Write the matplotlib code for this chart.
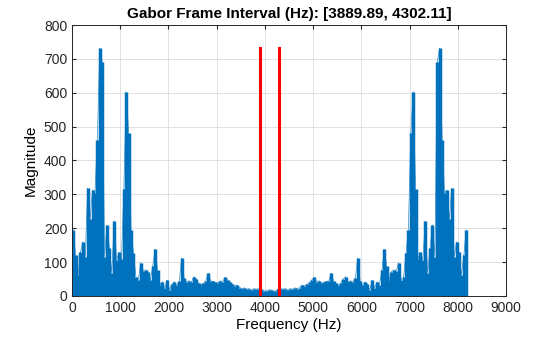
import numpy as np
import matplotlib.pyplot as plt

plt.rcParams['font.family'] = ['Liberation Sans', 'DejaVu Sans']

# Peak magnitude per 50 Hz bin (0 .. 8200 Hz)
bin_width = 50
mag_left = [195, 120, 62, 130, 160, 116, 318, 227, 313, 303,
            460, 731, 692, 116, 210, 141, 67, 221, 106, 129,
            108, 315, 603, 480, 195, 126, 57, 47, 98, 75,
            77, 72, 47, 90, 138, 77, 33, 42, 23, 47,
            18, 35, 42, 32, 45, 111, 52, 42, 45, 40,
            57, 50, 38, 32, 37, 45, 67, 45, 43, 40,
            38, 45, 42, 55, 48, 40, 35, 30, 32, 25,
            22, 24, 20, 22, 18, 22, 20, 22, 20, 15,
            15, 18]
mag_right = [18, 15, 15, 20, 22, 20, 22, 18, 22, 20,
             24, 22, 25, 32, 30, 35, 40, 48, 55, 42,
             45, 38, 40, 43, 45, 67, 45, 37, 32, 38,
             50, 57, 40, 45, 42, 52, 111, 45, 32, 42,
             35, 18, 47, 23, 42, 33, 77, 138, 90, 47,
             72, 77, 75, 98, 47, 57, 126, 195, 480, 603,
             315, 108, 129, 106, 221, 67, 141, 210, 116, 692,
             731, 460, 303, 313, 227, 318, 116, 160, 130, 62,
             120, 195]
magnitude = np.array(mag_left + mag_right)
freq = np.arange(len(magnitude)) * bin_width + bin_width / 2

interval = [3889.89, 4302.11]

fig = plt.figure(figsize=(5.6, 3.37), dpi=100)
ax = fig.add_axes([0.1286, 0.1217, 0.775, 0.8041])

blue = '#0072BD'
ax.vlines(freq, 0, magnitude, color=blue, linewidth=2.5)
ax.plot(freq, magnitude, color=blue, linewidth=0.5, alpha=0.8)

for f in interval:
    ax.plot([f, f], [0, magnitude.max()], color='r', linewidth=2.2)

ax.set_xlim(0, 9000)
ax.set_ylim(0, 800)
ax.set_xticks(np.arange(0, 9001, 1000))
ax.set_yticks(np.arange(0, 801, 100))
ax.grid(True, color='#dcdcdc', linewidth=0.6)
ax.set_axisbelow(True)
ax.tick_params(direction='in', top=True, right=True, labelsize=10, colors='#262626', length=3)
for s in ax.spines.values():
    s.set_color('#262626')
    s.set_linewidth(0.7)

ax.set_title('Gabor Frame Interval (Hz): [3889.89, 4302.11]', fontsize=11, fontweight='bold', pad=5)
ax.set_xlabel('Frequency (Hz)', fontsize=11, labelpad=2)
ax.set_ylabel('Magnitude', fontsize=11, labelpad=4)

fig.savefig('out.png', dpi=100)
